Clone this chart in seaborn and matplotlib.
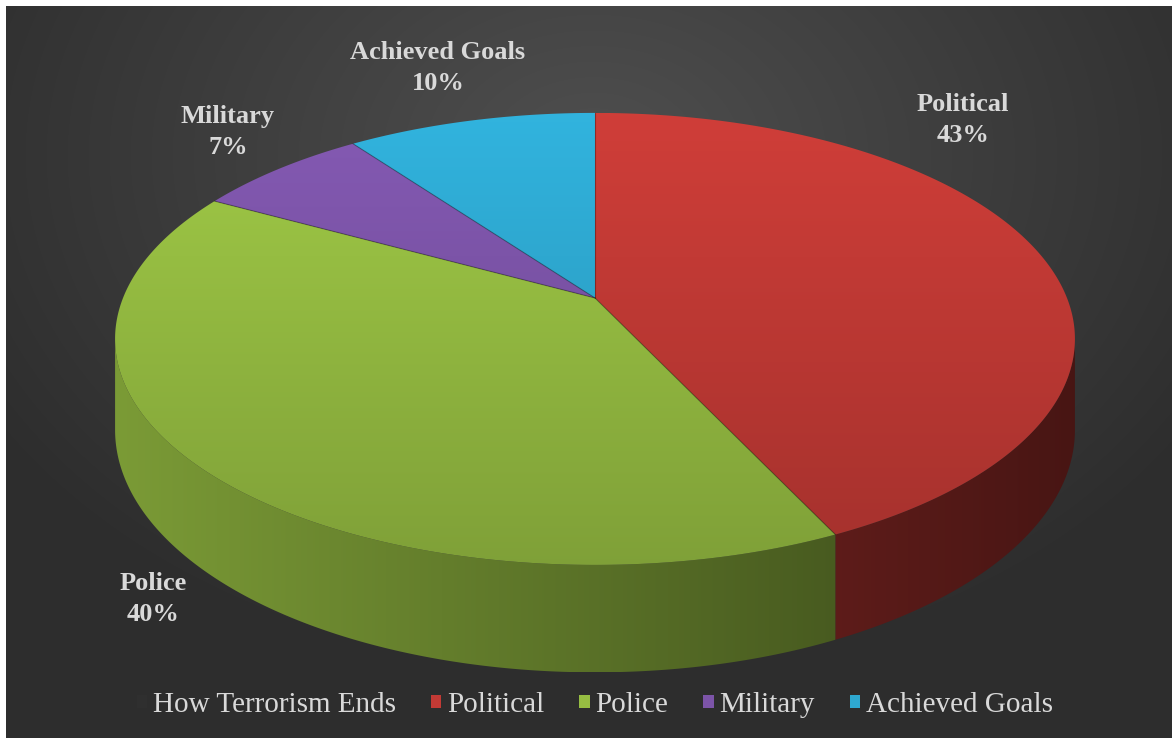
import numpy as np
import matplotlib
matplotlib.use("Agg")
import matplotlib.pyplot as plt
from matplotlib.patches import Polygon, Patch
from matplotlib.colors import to_rgb
import seaborn as sns

# --- data ---
series_name = "How Terrorism Ends"
categories = ["Political", "Police", "Military", "Achieved Goals"]
shares = [43, 40, 7, 10]
slice_colors = ["#c23a35", "#96bd42", "#7c54a8", "#2ea8d0"]

# label anchor points (pixels), as placed in the original
label_pos = {
    "Political": (963, 120),
    "Police": (153, 599),
    "Military": (228, 132),
    "Achieved Goals": (438, 68),
}

sns.set_theme(style="dark")
plt.rcParams['font.family'] = ['Liberation Serif', 'DejaVu Serif']

W, H = 1172, 738
fig = plt.figure(figsize=(W / 100, H / 100), dpi=100)
fig.patch.set_facecolor('white')
ax = fig.add_axes([0, 0, 1, 1])
ax.axis('off')

# dark radial background
yy, xx = np.mgrid[0:H:2, 0:W:2]
d = np.clip(np.hypot((xx - 590) / 700, (yy - 150) / 520), 0, 1)
g = 0.31 - 0.13 * d
bg = np.dstack([g, g, g])
ax.imshow(bg, extent=[6, W, H, 6], origin='upper', aspect='auto',
          interpolation='bilinear', zorder=0)

# simple perspective pie geometry
CX, CY = 595, 298
A, B, K = 472, 218.6, 0.181
DEPTH = 88


def project(t, dz=0.0):
    u, v = np.cos(t), np.sin(t)
    den = 1 + K * v
    return CX + A * u / den, CY - B * v / den + dz / den


def gradient_fill(xy, rgb, factor_fn, zorder):
    xs, ys = xy[:, 0], xy[:, 1]
    x0, x1, y0, y1 = xs.min(), xs.max(), ys.min(), ys.max()
    GX, GY = np.meshgrid(np.linspace(x0, x1, 300), np.linspace(y0, y1, 300))
    f = factor_fn(GX, GY)
    img = np.clip(np.array(rgb)[None, None, :] * f[..., None], 0, 1)
    im = ax.imshow(img, extent=[x0, x1, y1, y0], origin='upper',
                   aspect='auto', interpolation='bilinear', zorder=zorder)
    clip = Polygon(xy, closed=True, facecolor='none', edgecolor='none',
                   transform=ax.transData)
    ax.add_patch(clip)
    im.set_clip_path(clip)


total = float(sum(shares))
bounds = np.radians(90 - 360 * np.concatenate([[0], np.cumsum(shares)]) / total)
t_min, t_max = -np.pi + np.arcsin(K), -np.arcsin(K)

side_f = lambda X, Y: 0.82 - 0.45 * (X - 115) / 960
top_f = lambda X, Y: 1.07 - 0.22 * (Y - 113) / 450

for i, cat in enumerate(categories):
    a0, a1 = bounds[i], bounds[i + 1]
    rgb = to_rgb(slice_colors[i])

    # side wall (front half only)
    lo, hi = max(a1, t_min), min(a0, t_max)
    if lo < hi:
        ts = np.linspace(hi, lo, 200)
        tx, ty = project(ts)
        bx, by = project(ts[::-1], DEPTH)
        side = np.column_stack([np.r_[tx, bx], np.r_[ty, by]])
        gradient_fill(side, rgb, side_f, zorder=2)

    # top face
    ts = np.linspace(a0, a1, 300)
    px, py = project(ts)
    top = np.column_stack([np.r_[CX, px], np.r_[CY, py]])
    gradient_fill(top, rgb, top_f, zorder=3)

    pct = round(100 * shares[i] / total)
    lx, ly = label_pos[cat]
    ax.text(lx, ly, f"{cat}\n{pct}%", ha='center', va='center',
            fontsize=19, fontweight='bold', color='#d9d9d9',
            linespacing=1.4, zorder=5)

# thin separators between slices on the top face
for a in bounds[:-1]:
    ex, ey = project(a)
    ax.plot([CX, ex], [CY, ey], color=(0, 0, 0, 0.3), lw=0.8, zorder=4)

handles = [Patch(facecolor='#2f2f2f', edgecolor='none')] + \
          [Patch(facecolor=c, edgecolor='none') for c in slice_colors]
labels = [series_name] + categories
ax.legend(handles, labels, loc='center', bbox_to_anchor=(595, 705),
          bbox_transform=ax.transData, ncol=5, frameon=False, fontsize=21,
          handlelength=0.35, handleheight=0.35, handletextpad=0.2,
          columnspacing=1.2, labelcolor='#d9d9d9')

ax.set_xlim(0, W)
ax.set_ylim(H, 0)
fig.savefig("out.png", dpi=100)
